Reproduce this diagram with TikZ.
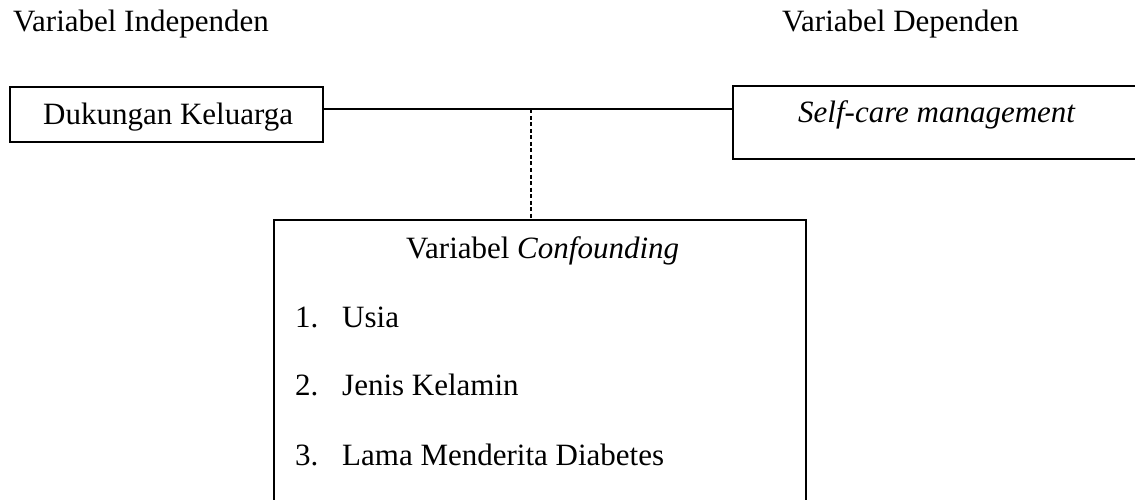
\documentclass[tikz,border=0pt]{standalone}
\usepackage{fontspec}
\setmainfont{Liberation Serif}
\begin{document}
\begin{tikzpicture}[x=1pt,y=-1pt,
  txt/.style={inner sep=0pt,anchor=base west,font=\fontsize{31}{36}\selectfont},
  box/.style={draw,line width=2pt,rectangle,inner sep=0pt,anchor=north west},
  link/.style={line width=2pt},
  dlink/.style={line width=1.6pt,dash pattern=on 4pt off 2.5pt}]
\useasboundingbox (0,0) rectangle (1135,500);
\clip (0,0) rectangle (1135,500);
% headings
\node[txt] (hind) at (13,32) {Variabel Independen};
\node[txt] (hdep) at (782,32) {Variabel Dependen};
% boxes
\node[box,minimum width=313pt,minimum height=55pt] (lbox) at (9,86) {};
\node[box,minimum width=420pt,minimum height=73pt] (rbox) at (732,85) {};
\node[box,minimum width=532pt,minimum height=300pt] (cbox) at (273,219) {};
% box texts
\node[txt] (tdk) at (43,125) {Dukungan Keluarga};
\node[txt] (tsc) at (798,123) {\itshape Self-care management};
\node[txt] (tvc) at (406,258) {Variabel \textit{Confounding}};
\node[txt] (n1) at (295,327.5) {1.};
\node[txt] (i1) at (342,327.5) {Usia};
\node[txt] (n2) at (295,395.5) {2.};
\node[txt] (i2) at (342,395.5) {Jenis Kelamin};
\node[txt] (n3) at (295,465) {3.};
\node[txt] (i3) at (342,465) {Lama Menderita Diabetes};
% connectors
\coordinate (j) at (531,109.5);
\draw[link] (lbox.east |- j) -- (rbox.west |- j);
\draw[dlink] (j) -- (cbox.north -| j);
\end{tikzpicture}
\end{document}
